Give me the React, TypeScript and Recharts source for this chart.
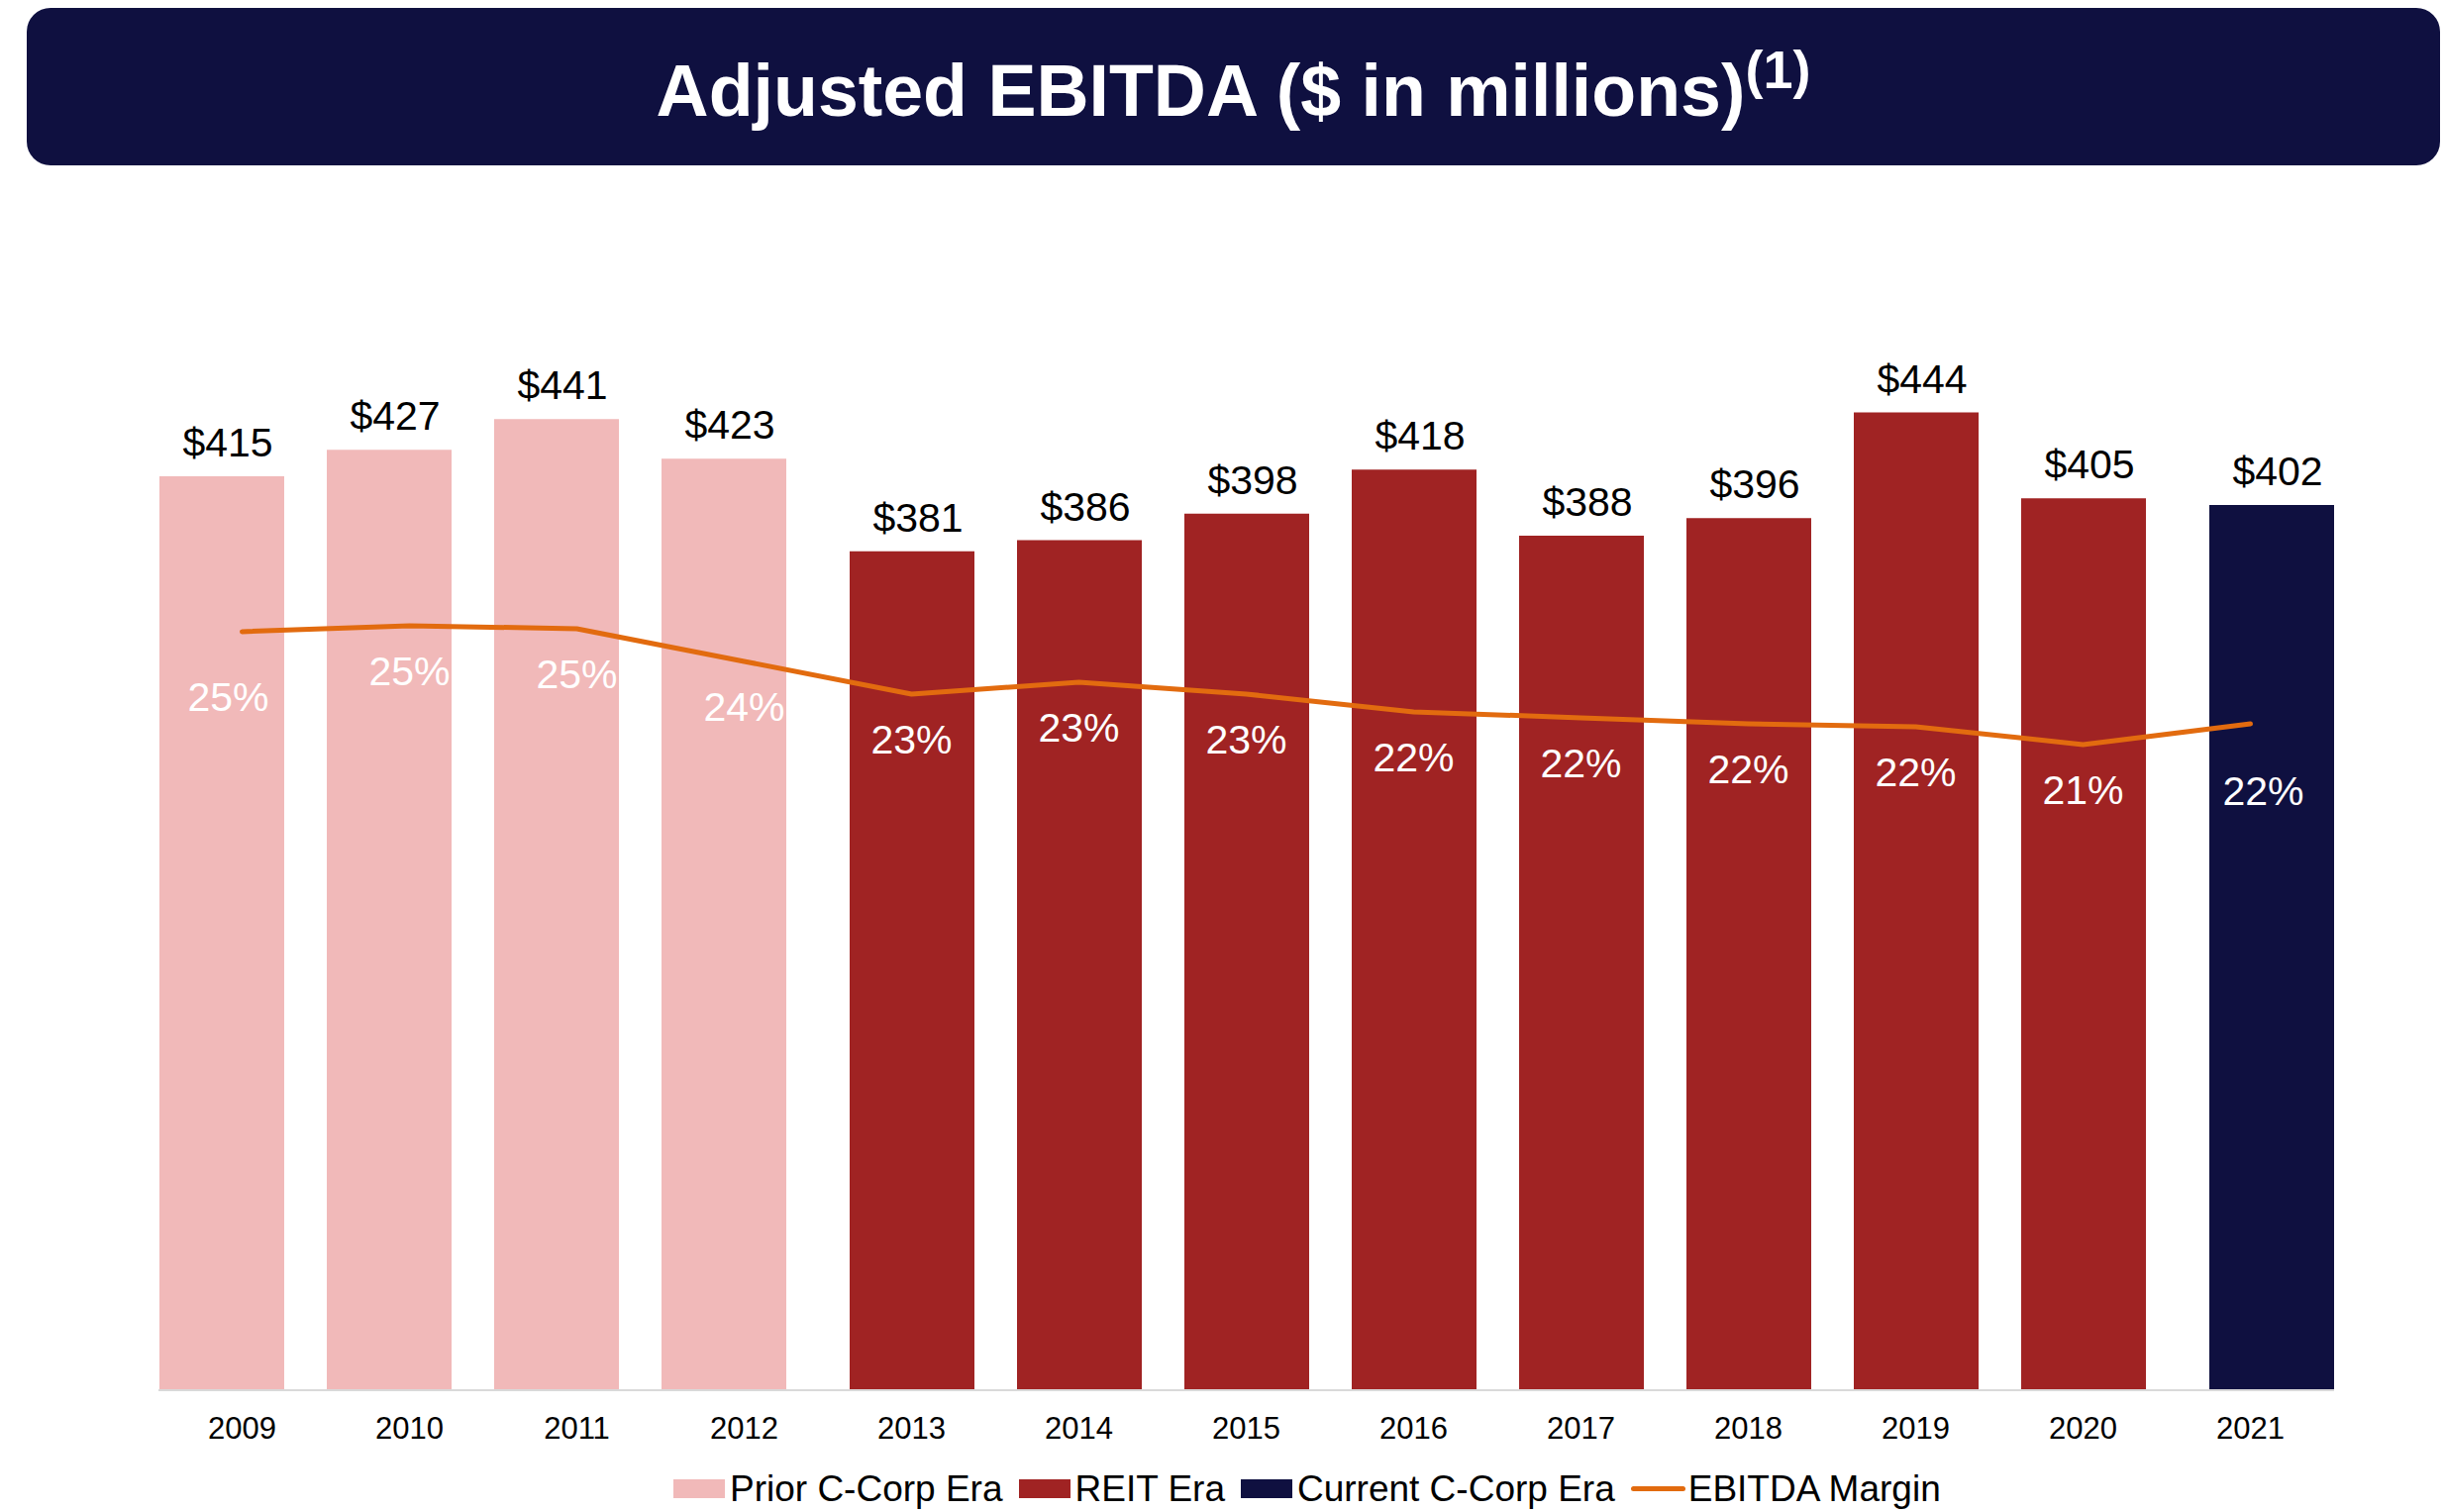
import React from "react";
import { ComposedChart, Bar, Line, XAxis, YAxis, LabelList } from "recharts";

const FONT = '"Liberation Sans", Arial, sans-serif';

const years = ["2009", "2010", "2011", "2012", "2013", "2014", "2015", "2016", "2017", "2018", "2019", "2020", "2021"];
const ebitda = [415, 427, 441, 423, 381, 386, 398, 418, 388, 396, 444, 405, 402];
const eras = ["prior", "prior", "prior", "prior", "reit", "reit", "reit", "reit", "reit", "reit", "reit", "reit", "current"];
const marginPct = [24.9, 25.1, 25.0, 23.9, 22.8, 23.2, 22.8, 22.2, 22.0, 21.8, 21.7, 21.1, 21.8];

const colors = {
  prior: "#F1B9B9",
  reit: "#A02323",
  current: "#0F1040",
  margin: "#E26B0F",
};

const legendItems = [
  { label: "Prior C-Corp Era", color: colors.prior, kind: "rect" },
  { label: "REIT Era", color: colors.reit, kind: "rect" },
  { label: "Current C-Corp Era", color: colors.current, kind: "rect" },
  { label: "EBITDA Margin", color: colors.margin, kind: "line" },
];

const data = years.map((year, i) => ({
  year,
  prior: eras[i] === "prior" ? ebitda[i] : null,
  reit: eras[i] === "reit" ? ebitda[i] : null,
  current: eras[i] === "current" ? ebitda[i] : null,
  margin: marginPct[i],
}));

const renderValueLabel = (props: any) => {
  const { value } = props;
  if (value === null || value === undefined) return null;
  const vb = props.viewBox || props;
  const x = vb.x + vb.width / 2 + 6;
  const y = vb.y - 20;
  return (
    <text x={x} y={y} textAnchor="middle" fill="#000" fontSize={41} fontFamily={FONT}>
      ${value}
    </text>
  );
};

const renderMarginLabel = (props: any) => {
  const { value, index } = props;
  const vb = props.viewBox || props;
  let dx = 0;
  let dy = 60;
  if (index === 0) {
    dx = -14;
    dy = 80;
  } else if (index === years.length - 1) {
    dx = 13;
    dy = 82;
  }
  return (
    <text x={vb.x + dx} y={vb.y + dy} textAnchor="middle" fill="#fff" fontSize={41} fontFamily={FONT}>
      {Math.round(value)}%
    </text>
  );
};

const App = () => {
  return (
    <div style={{ position: "absolute", left: 0, top: 0, width: 2469, height: 1527, overflow: "hidden", background: "#fff", fontFamily: FONT }}>
      <div style={{ position: "absolute", left: 27, top: 8, width: 2437, height: 159, background: colors.current, borderRadius: 24 }}>
        <div
          style={{
            position: "absolute",
            left: 0,
            right: 0,
            top: 47,
            textAlign: "center",
            color: "#fff",
            fontWeight: 700,
            fontSize: 73.5,
            lineHeight: "74px",
            whiteSpace: "nowrap",
          }}
        >
          Adjusted EBITDA ($ in millions)
          <span style={{ fontSize: 54, position: "relative", top: -28 }}>(1)</span>
        </div>
      </div>

      <div style={{ position: "absolute", left: 0, top: 0 }}>
        <ComposedChart
          width={2469}
          height={1527}
          data={data}
          margin={{ top: 292, right: 112, bottom: 63, left: 160 }}
          barGap={-105}
          barCategoryGap={0}
        >
          <XAxis
            dataKey="year"
            height={60}
            interval={0}
            tickLine={false}
            tickSize={0}
            tickMargin={27}
            axisLine={{ stroke: "#D9D9D9", strokeWidth: 2 }}
            tick={{ fill: "#000", fontSize: 31, fontFamily: FONT }}
          />
          <YAxis yAxisId="left" hide domain={[0, 500]} />
          <YAxis yAxisId="right" orientation="right" hide domain={[-0.633, 36.43]} allowDataOverflow />
          <Bar yAxisId="left" dataKey="prior" fill={colors.prior} barSize={126} isAnimationActive={false}>
            <LabelList dataKey="prior" content={renderValueLabel} />
          </Bar>
          <Bar yAxisId="left" dataKey="reit" fill={colors.reit} barSize={126} isAnimationActive={false}>
            <LabelList dataKey="reit" content={renderValueLabel} />
          </Bar>
          <Bar yAxisId="left" dataKey="current" fill={colors.current} barSize={126} isAnimationActive={false}>
            <LabelList dataKey="current" content={renderValueLabel} />
          </Bar>
          <Line
            yAxisId="right"
            dataKey="margin"
            type="linear"
            stroke={colors.margin}
            strokeWidth={5}
            strokeLinecap="round"
            strokeLinejoin="round"
            dot={false}
            activeDot={false}
            isAnimationActive={false}
          >
            <LabelList dataKey="margin" content={renderMarginLabel} />
          </Line>
        </ComposedChart>
      </div>

      <div
        style={{
          position: "absolute",
          left: 680,
          top: 1485,
          display: "flex",
          alignItems: "center",
          fontSize: 37,
          lineHeight: "37px",
          color: "#000",
          whiteSpace: "nowrap",
        }}
      >
        {legendItems.map((item) => (
          <div key={item.label} style={{ display: "flex", alignItems: "center", marginRight: 16 }}>
            {item.kind === "rect" ? (
              <div style={{ width: 52, height: 19, background: item.color, marginRight: 5 }} />
            ) : (
              <div style={{ width: 55, height: 5, background: item.color, borderRadius: 3, marginRight: 3 }} />
            )}
            <span>{item.label}</span>
          </div>
        ))}
      </div>
    </div>
  );
};

export default App;
